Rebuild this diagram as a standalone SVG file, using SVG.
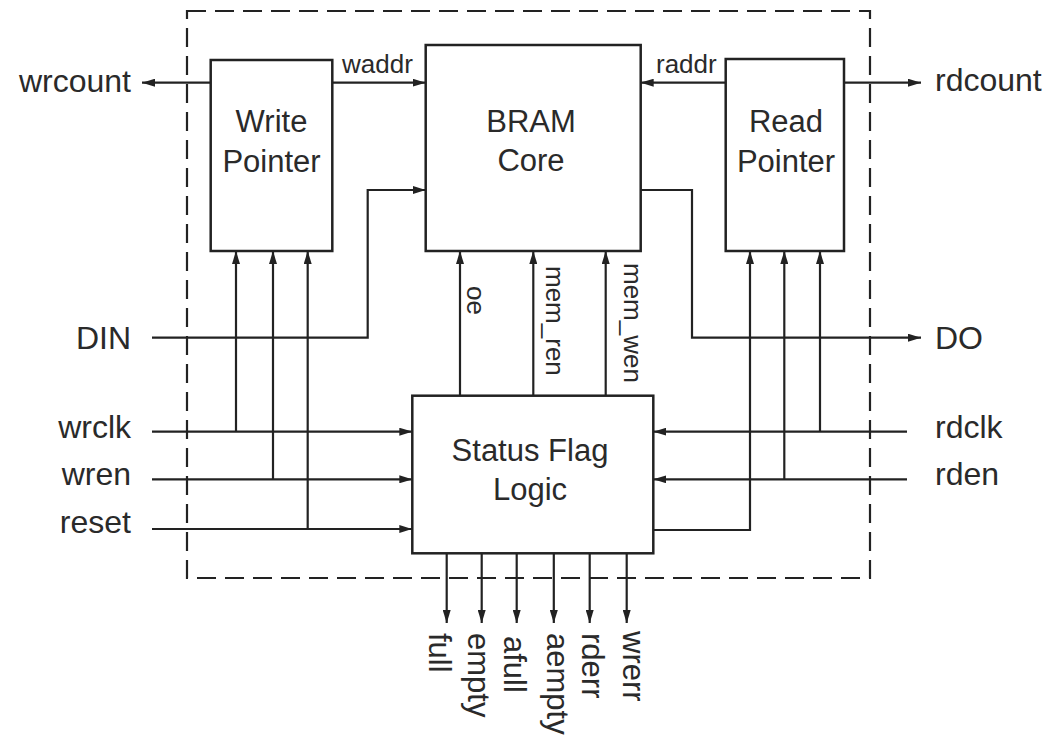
<svg xmlns="http://www.w3.org/2000/svg" width="1049" height="738" viewBox="0 0 1049 738">
<style>
.box{fill:#fff;stroke:#222;stroke-width:2.5}
.a{fill:none;stroke:#222;stroke-width:2.2;marker-end:url(#ah)}
.dash{fill:none;stroke:#222;stroke-width:2.2;stroke-dasharray:19 9}
text{font-family:"Liberation Sans",Arial,sans-serif;fill:#2a2a2a}
.big{font-size:32px}
.bot{font-size:31px}
.bx{font-size:31px;text-anchor:middle}
.sm{font-size:26px}
</style>
<defs>
<marker id="ah" markerUnits="userSpaceOnUse" markerWidth="13" markerHeight="8" refX="13" refY="4" orient="auto">
<path d="M0,0 L13,4 L0,8 z" fill="#222"/>
</marker>
</defs>
<rect class="dash" x="187" y="11" width="683" height="567"/>
<g id="connectors">
<path class="a" d="M210.7,82.7 H142"/>
<path class="a" d="M332.3,82.7 H425.7"/>
<path class="a" d="M725.7,82.7 H640.7"/>
<path class="a" d="M844,82.7 H921"/>
<path class="a" d="M152,337.7 H367.7 V190 H425.7"/>
<path class="a" d="M640.7,190 H692 V337.7 H921"/>
<path class="a" d="M152,431.7 H412.3"/>
<path class="a" d="M236,431.7 V251"/>
<path class="a" d="M152,479.3 H412.3"/>
<path class="a" d="M273,479.3 V251"/>
<path class="a" d="M152,529 H412.3"/>
<path class="a" d="M307.7,529 V251"/>
<path class="a" d="M907,431.7 H653.3"/>
<path class="a" d="M820,431.7 V251"/>
<path class="a" d="M907,479.3 H653.3"/>
<path class="a" d="M784.3,479.3 V251"/>
<path class="a" d="M653.3,530 H750 V251"/>
<path class="a" d="M460,395.7 V251"/>
<path class="a" d="M533.3,395.7 V251"/>
<path class="a" d="M605.7,395.7 V251"/>
<path class="a" d="M446.7,553.3 V623"/>
<path class="a" d="M481.7,553.3 V623"/>
<path class="a" d="M516.7,553.3 V623"/>
<path class="a" d="M553.8,553.3 V623"/>
<path class="a" d="M589.7,553.3 V623"/>
<path class="a" d="M626.7,553.3 V623"/>
</g>
<g id="write-pointer">
<rect class="box" x="210.7" y="60" width="121.6" height="191"/>
<text class="bx" x="271.5" y="132">Write</text>
<text class="bx" x="271.5" y="172">Pointer</text>
</g>
<g id="bram-core">
<rect class="box" x="425.7" y="45" width="215" height="206"/>
<text class="bx" x="531" y="132">BRAM</text>
<text class="bx" x="531" y="171">Core</text>
</g>
<g id="read-pointer">
<rect class="box" x="725.7" y="59" width="118.3" height="192"/>
<text class="bx" x="786" y="132">Read</text>
<text class="bx" x="786" y="172">Pointer</text>
</g>
<g id="status-flag-logic">
<rect class="box" x="412.3" y="395.7" width="241" height="157.6"/>
<text class="bx" x="530" y="461">Status Flag</text>
<text class="bx" x="530" y="500">Logic</text>
</g>
<g id="labels">
<text class="big" x="131" y="92" text-anchor="end">wrcount</text>
<text class="big" x="935" y="91">rdcount</text>
<text class="sm" x="342" y="73">waddr</text>
<text class="sm" x="656" y="73">raddr</text>
<text class="big" x="131" y="349" text-anchor="end">DIN</text>
<text class="big" x="935" y="349">DO</text>
<text class="big" x="131" y="438" text-anchor="end">wrclk</text>
<text class="big" x="131" y="485" text-anchor="end">wren</text>
<text class="big" x="131" y="533" text-anchor="end">reset</text>
<text class="big" x="935" y="438">rdclk</text>
<text class="big" x="935" y="485">rden</text>
<text class="sm" transform="translate(467,286) rotate(90)">oe</text>
<text class="sm" transform="translate(545.5,266) rotate(90)">mem_ren</text>
<text class="sm" transform="translate(623.5,263) rotate(90)">mem_wen</text>
<text class="bot" transform="translate(428.5,633) rotate(90)">full</text>
<text class="bot" transform="translate(468,633) rotate(90)">empty</text>
<text class="bot" transform="translate(504,636) rotate(90)">afull</text>
<text class="bot" transform="translate(546.5,633) rotate(90)">aempty</text>
<text class="bot" transform="translate(582,633) rotate(90)">rderr</text>
<text class="bot" transform="translate(623,631) rotate(90)">wrerr</text>
</g>
</svg>
